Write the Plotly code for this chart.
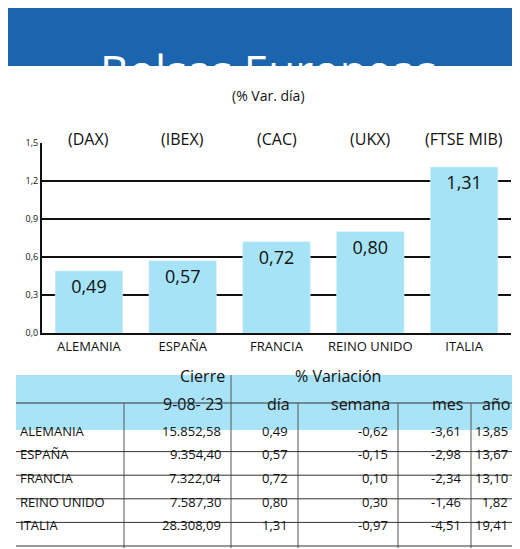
import plotly.graph_objects as go

W, H = 520, 549

paises = ["ALEMANIA", "ESPAÑA", "FRANCIA", "REINO UNIDO", "ITALIA"]
indices = ["(DAX)", "(IBEX)", "(CAC)", "(UKX)", "(FTSE MIB)"]
var_dia = [0.49, 0.57, 0.72, 0.80, 1.31]
cierre = ["15.852,58", "9.354,40", "7.322,04", "7.587,30", "28.308,09"]
dia = ["0,49", "0,57", "0,72", "0,80", "1,31"]
semana = ["-0,62", "-0,15", "0,10", "0,30", "-0,97"]
mes = ["-3,61", "-2,98", "-2,34", "-1,46", "-4,51"]
anio = ["13,85", "13,67", "13,10", "1,82", "19,41"]
y_ticks = [0, 0.3, 0.6, 0.9, 1.2, 1.5]
y_ticktext = ["0,0", "0,3", "0,6", "0,9", "1,2", "1,5"]

FONT = "Open Sans"
BLUE = "#1b64ae"
LIGHT = "#a8e3f7"
BAR = "#a6e3f7"


def px(x):
    return x / W


def py(y):
    return 1 - y / H


fig = go.Figure()
fig.add_trace(go.Bar(
    x=paises, y=var_dia, marker_color=BAR, width=0.72,
    text=[f"{v:.2f}".replace(".", ",") for v in var_dia],
    textposition="inside", insidetextanchor="end",
    textfont=dict(size=18, color="#111", family=FONT),
))

shapes = []
ann = []

# cabecera
shapes.append(dict(type="rect", xref="paper", yref="paper", x0=0, x1=1,
                   y0=py(58), y1=1, fillcolor=BLUE, line_width=0, layer="below"))
ann.append(dict(text="Bolsas Europeas", x=0.5, y=py(30), xref="paper", yref="paper",
                showarrow=False, font=dict(size=44, color="white", family=FONT)))
ann.append(dict(text="(% Var. día)", x=0.5, y=py(76), xref="paper", yref="paper",
                showarrow=False, font=dict(size=14, color="#111", family=FONT)))
for p, idx in zip(paises, indices):
    ann.append(dict(text=idx, x=p, y=py(118), xref="x", yref="paper",
                    showarrow=False, font=dict(size=16, color="#111", family=FONT)))

# tabla
cols = [8, 116, 223, 290, 390, 463, 510]
top, r1, r2 = 367, 395, 422
row_h = 23.6
bottom = r2 + 5 * row_h
shapes.append(dict(type="rect", xref="paper", yref="paper", x0=px(8), x1=px(510),
                   y0=py(r2), y1=py(top), fillcolor=LIGHT, line_width=0, layer="below"))
shapes.append(dict(type="line", xref="paper", yref="paper", x0=px(8), x1=px(510),
                   y0=py(r1), y1=py(r1), line=dict(color="#333", width=1)))
for i, c in enumerate(cols[1:-1], start=1):
    y0 = top if i == 2 else r1
    shapes.append(dict(type="line", xref="paper", yref="paper", x0=px(c), x1=px(c),
                       y0=py(bottom), y1=py(y0), line=dict(color="#555", width=1)))
for k in range(5):
    yb = r2 + (k + 1) * row_h - 2
    shapes.append(dict(type="line", xref="paper", yref="paper", x0=px(8), x1=px(510),
                       y0=py(yb), y1=py(yb), line=dict(color="#333", width=1)))

hf = dict(size=16, color="#111", family=FONT)
ann.append(dict(text="Cierre", x=px(170), y=py(381), xref="paper", yref="paper", showarrow=False, font=hf))
ann.append(dict(text="% Variación", x=px(330), y=py(381), xref="paper", yref="paper", showarrow=False, font=hf))
sub = ["9-08-´23", "día", "semana", "mes", "año"]
for s, c in zip(sub, cols[2:]):
    ann.append(dict(text=s, x=px(c - 6), y=py(409), xref="paper", yref="paper",
                    xanchor="right", showarrow=False, font=hf))

cf = dict(size=13, color="#111", family=FONT)
for k in range(5):
    yc = r2 + k * row_h + row_h / 2
    ann.append(dict(text=paises[k], x=px(10), y=py(yc), xref="paper", yref="paper",
                    xanchor="left", showarrow=False, font=cf))
    for vals, c in zip([cierre, dia, semana, mes, anio], cols[2:]):
        ann.append(dict(text=vals[k], x=px(c - 8), y=py(yc), xref="paper", yref="paper",
                        xanchor="right", showarrow=False, font=cf))

fig.update_layout(
    width=W, height=H, margin=dict(l=0, r=0, t=0, b=0, pad=0), autosize=False,
    paper_bgcolor="white", plot_bgcolor="white",
    showlegend=False,
    shapes=shapes, annotations=ann,
    xaxis=dict(domain=[px(34), px(503)], showline=True, linecolor="#111", linewidth=2,
               automargin=False, tickfont=dict(size=13, family=FONT, color="#111"),
               fixedrange=True),
    yaxis=dict(domain=[py(325), py(135)], range=[0, 1.5], tickvals=y_ticks, ticktext=y_ticktext,
               automargin=False, showgrid=True, gridcolor="#111", gridwidth=1.5, showline=True,
               linecolor="#111", linewidth=2, tickfont=dict(size=9, family=FONT, color="#111"),
               zeroline=False),
)

fig.write_html("out.html")
